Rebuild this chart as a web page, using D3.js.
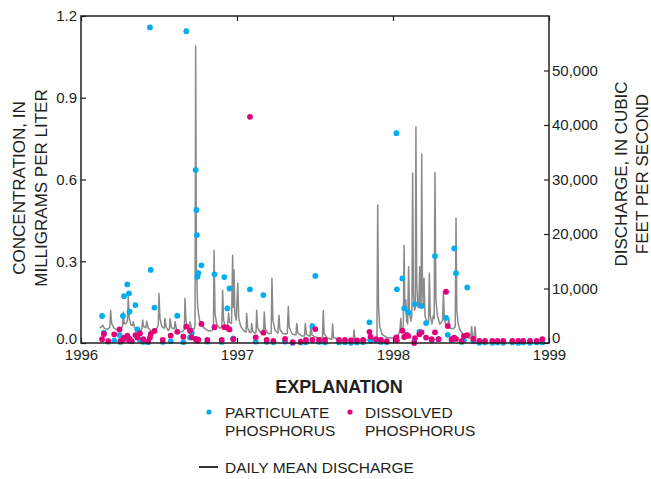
<!DOCTYPE html>
<html>
<head>
<meta charset="utf-8">
<script src="https://cdn.jsdelivr.net/npm/d3@7/dist/d3.min.js"></script>
<style>
  html, body { margin: 0; padding: 0; background: #fff; }
  svg { display: block; }
  text { font-family: "Liberation Sans", Arial, Helvetica, sans-serif; fill: #231f20; }
</style>
</head>
<body>
<svg id="chart" width="651" height="479"></svg>
<script>
// ---------- DATA ----------
const xTickYears = [1996, 1997, 1998, 1999];
const concTicks = [0, 0.3, 0.6, 0.9, 1.2];
const dischargeTicks = [0, 10000, 20000, 30000, 40000, 50000];

// Water-quality samples (decimal year) with particulate and dissolved phosphorus, mg/L
const sampleYears = [
  1996.135, 1996.147, 1996.175, 1996.213, 1996.247, 1996.253, 1996.269, 1996.276, 1996.297, 1996.308,
  1996.311, 1996.325, 1996.349, 1996.361, 1996.378, 1996.399, 1996.431, 1996.442, 1996.447, 1996.471,
  1996.524, 1996.575, 1996.617, 1996.656, 1996.675, 1996.699, 1996.710, 1996.735, 1996.740, 1996.743,
  1996.746, 1996.752, 1996.772, 1996.810, 1996.856, 1996.902, 1996.919, 1996.938, 1996.952, 1996.976,
  1997.083, 1997.120, 1997.169, 1997.190, 1997.233, 1997.308, 1997.357, 1997.408, 1997.442, 1997.483,
  1997.502, 1997.526, 1997.564, 1997.654, 1997.692, 1997.731, 1997.769, 1997.808, 1997.849, 1997.856,
  1997.891, 1997.923, 1997.960, 1998.022, 1998.025, 1998.060, 1998.072, 1998.088, 1998.098, 1998.136,
  1998.141, 1998.169, 1998.183, 1998.212, 1998.248, 1998.269, 1998.292, 1998.340, 1998.351, 1998.376,
  1998.392, 1998.404, 1998.440, 1998.455, 1998.476, 1998.515, 1998.553, 1998.590, 1998.637, 1998.671,
  1998.707, 1998.765, 1998.803, 1998.835, 1998.878, 1998.921, 1998.957
];
const particulate = [
  0.099, 0.038, 0.005, 0.010, 0.029, 0.004, 0.099, 0.172, 0.215, 0.182,
  0.115, 0.006, 0.139, 0.050, 0.012, 0.004, 0.003, 1.158, 0.268, 0.130,
  0.004, 0.006, 0.100, 0.003, 1.144, 0.020, 0.038, 0.635, 0.488, 0.396,
  0.243, 0.256, 0.285, 0.005, 0.252, 0.004, 0.242, 0.127, 0.200, 0.017,
  0.197, 0.005, 0.176, 0.004, 0.003, 0.005, 0.000, 0.002, 0.003, 0.062,
  0.246, 0.004, 0.002, 0.002, 0.003, 0.001, 0.002, 0.003, 0.076, 0.008,
  0.010, 0.004, 0.003, 0.770, 0.197, 0.237, 0.127, 0.030, 0.112, 0.005,
  0.143, 0.041, 0.136, 0.073, 0.010, 0.319, 0.014, 0.092, 0.030, 0.010,
  0.347, 0.256, 0.004, 0.010, 0.204, 0.006, 0.001, 0.002, 0.001, 0.002,
  0.001, 0.002, 0.001, 0.002, 0.001, 0.002, 0.002
];
const dissolved = [
  0.014, 0.033, 0.007, 0.032, 0.050, 0.008, 0.012, 0.020, 0.027, 0.010,
  0.015, 0.007, 0.029, 0.020, 0.035, 0.014, 0.007, 0.020, 0.033, 0.044,
  0.011, 0.027, 0.041, 0.023, 0.060, 0.045, 0.021, 0.015, 0.012, 0.010,
  0.008, 0.012, 0.070, 0.011, 0.058, 0.011, 0.058, 0.056, 0.050, 0.014,
  0.830, 0.021, 0.038, 0.011, 0.008, 0.015, 0.003, 0.005, 0.011, 0.011,
  0.051, 0.011, 0.011, 0.011, 0.011, 0.010, 0.010, 0.011, 0.041, 0.023,
  0.014, 0.011, 0.007, 0.021, 0.010, 0.045, 0.022, 0.029, 0.026, 0.000,
  0.018, 0.032, 0.039, 0.020, 0.014, 0.039, 0.014, 0.188, 0.062, 0.014,
  0.020, 0.015, 0.007, 0.026, 0.029, 0.015, 0.008, 0.008, 0.008, 0.008,
  0.008, 0.008, 0.008, 0.008, 0.008, 0.008, 0.014
];

// Daily mean discharge, read at turning points (decimal year, cubic feet per second)
const dischargeYears = [
  1996.120, 1996.135, 1996.139, 1996.150, 1996.170, 1996.185, 1996.190, 1996.196, 1996.210, 1996.230,
  1996.250, 1996.266, 1996.271, 1996.277, 1996.290, 1996.298, 1996.303, 1996.309, 1996.320, 1996.331,
  1996.335, 1996.343, 1996.360, 1996.380, 1996.391, 1996.395, 1996.402, 1996.416, 1996.421, 1996.430,
  1996.450, 1996.470, 1996.485, 1996.495, 1996.500, 1996.506, 1996.518, 1996.534, 1996.538, 1996.546,
  1996.560, 1996.567, 1996.571, 1996.580, 1996.598, 1996.603, 1996.612, 1996.630, 1996.650, 1996.662,
  1996.667, 1996.673, 1996.684, 1996.695, 1996.699, 1996.708, 1996.725, 1996.731, 1996.735, 1996.740,
  1996.748, 1996.760, 1996.780, 1996.800, 1996.820, 1996.840, 1996.849, 1996.853, 1996.859, 1996.870,
  1996.890, 1996.903, 1996.908, 1996.914, 1996.925, 1996.940, 1996.946, 1996.952, 1996.965, 1996.972,
  1996.977, 1996.981, 1996.986, 1996.995, 1997.005, 1997.011, 1997.025, 1997.045, 1997.058, 1997.062,
  1997.068, 1997.080, 1997.090, 1997.094, 1997.100, 1997.115, 1997.122, 1997.126, 1997.132, 1997.150,
  1997.170, 1997.175, 1997.181, 1997.200, 1997.219, 1997.224, 1997.230, 1997.245, 1997.262, 1997.269,
  1997.275, 1997.295, 1997.322, 1997.329, 1997.335, 1997.355, 1997.378, 1997.383, 1997.390, 1997.415,
  1997.433, 1997.438, 1997.445, 1997.468, 1997.474, 1997.480, 1997.500, 1997.530, 1997.548, 1997.553,
  1997.559, 1997.580, 1997.608, 1997.613, 1997.619, 1997.650, 1997.700, 1997.745, 1997.750, 1997.756,
  1997.800, 1997.850, 1997.880, 1997.897, 1997.902, 1997.907, 1997.915, 1997.930, 1997.960, 1997.990,
  1998.020, 1998.035, 1998.045, 1998.050, 1998.056, 1998.066, 1998.071, 1998.076, 1998.082, 1998.087,
  1998.094, 1998.100, 1998.106, 1998.115, 1998.121, 1998.126, 1998.131, 1998.138, 1998.143, 1998.147,
  1998.152, 1998.160, 1998.166, 1998.171, 1998.176, 1998.180, 1998.184, 1998.189, 1998.195, 1998.199,
  1998.205, 1998.215, 1998.228, 1998.233, 1998.239, 1998.250, 1998.258, 1998.264, 1998.269, 1998.275,
  1998.285, 1998.300, 1998.310, 1998.318, 1998.323, 1998.329, 1998.340, 1998.352, 1998.358, 1998.365,
  1998.385, 1998.399, 1998.404, 1998.409, 1998.418, 1998.430, 1998.450, 1998.480, 1998.498, 1998.504,
  1998.510, 1998.520, 1998.526, 1998.532
];
const dischargeCfs = [
  2800, 3000, 3300, 2700, 2500, 2900, 6000, 3600, 2800, 2400,
  2700, 3000, 5700, 3500, 3600, 4200, 8500, 4600, 3300, 3200,
  3900, 2900, 2400, 2200, 2600, 4200, 3000, 2800, 4000, 2800,
  2200, 2400, 2700, 3200, 9100, 4500, 3000, 2700, 4500, 2900,
  2300, 2600, 4500, 2800, 2600, 3900, 2500, 2000, 2100, 2500,
  8200, 4000, 2900, 2800, 3900, 2700, 2500, 3200, 54500, 14000,
  6500, 4200, 3000, 2500, 2200, 2300, 2700, 17000, 5500, 3400,
  2700, 3000, 9700, 4200, 3000, 3300, 5500, 3800, 3600, 16100,
  6500, 13400, 5500, 4200, 11000, 4500, 3000, 2200, 2000, 5400,
  2800, 2000, 1900, 3600, 2200, 1800, 2000, 6000, 2800, 1900,
  1700, 5700, 2600, 1700, 1800, 11900, 4200, 2300, 1800, 5100,
  2500, 1700, 1700, 6700, 2800, 1600, 1500, 3600, 1800, 1300,
  1300, 3600, 1600, 1200, 3500, 1500, 1100, 900, 900, 5900,
  1700, 900, 700, 3500, 1000, 600, 500, 500, 2400, 700,
  500, 600, 700, 900, 25300, 7000, 3000, 1600, 1000, 900,
  1200, 1500, 2500, 4500, 2200, 2500, 17900, 6000, 7900, 4000,
  3500, 14000, 5500, 4000, 5200, 31200, 9000, 6000, 6500, 39700,
  11000, 6500, 7000, 14000, 7000, 6500, 34700, 10000, 6500, 11900,
  5000, 4000, 3600, 12800, 5000, 3500, 5000, 4500, 31300, 8000,
  5000, 3500, 3800, 4200, 9400, 4500, 3200, 3000, 4500, 2700,
  2600, 3000, 22900, 6000, 3500, 2400, 1500, 900, 900, 3000,
  1200, 1000, 3000, 800
];

// ---------- LAYOUT ----------
const svg = d3.select("#chart");
const L = 81, R = 549, T = 16, B = 343;
const ink = "#231f20";
const cyan = "#00aeef", magenta = "#e2007a", grey = "#8a8a8a";

const x = d3.scaleLinear().domain([1996, 1999]).range([L, R]);
const yC = d3.scaleLinear().domain([0, 1.2]).range([B, T]);
const yQ = d3.scaleLinear().domain([0, 60000]).range([B, T]);

// discharge line
const line = d3.line().x((d, i) => x(dischargeYears[i])).y(d => yQ(d));
svg.append("path")
  .datum(dischargeCfs)
  .attr("d", line)
  .attr("fill", "none")
  .attr("stroke", grey)
  .attr("stroke-width", 1.5)
  .attr("stroke-linejoin", "round");

// particulate points
svg.append("g").selectAll("circle")
  .data(particulate)
  .join("circle")
  .attr("cx", (d, i) => x(sampleYears[i]))
  .attr("cy", d => yC(d))
  .attr("r", 2.9)
  .attr("fill", cyan);

// dissolved points
svg.append("g").selectAll("circle")
  .data(dissolved)
  .join("circle")
  .attr("cx", (d, i) => x(sampleYears[i]))
  .attr("cy", d => yC(d))
  .attr("r", 2.9)
  .attr("fill", magenta);

// axes
function styleAxis(g) {
  g.select(".domain").remove();
  g.selectAll(".tick line").attr("stroke", ink).attr("stroke-width", 1.2);
  g.selectAll(".tick text").attr("fill", ink)
    .style("font-family", '"Liberation Sans", Arial, Helvetica, sans-serif')
    .style("font-size", "15px");
}

const leftAxis = svg.append("g").attr("transform", `translate(${L},0)`)
  .call(d3.axisLeft(yC).tickValues(concTicks).tickSize(-5).tickPadding(4).tickFormat(d3.format(".1f")))
  .call(styleAxis);
leftAxis.selectAll(".tick text").filter(d => d === 0).attr("y", -4);

const rightAxis = svg.append("g").attr("transform", `translate(${R},0)`)
  .call(d3.axisRight(yQ).tickValues(dischargeTicks).tickSize(-5).tickPadding(3).tickFormat(d3.format(",")))
  .call(styleAxis);
rightAxis.selectAll(".tick text").filter(d => d === 0).attr("y", -5);

svg.append("g").attr("transform", `translate(0,${B})`)
  .call(d3.axisBottom(x).tickValues(xTickYears).tickSize(-5).tickPadding(6).tickFormat(d3.format("d")))
  .call(styleAxis);

svg.append("g").attr("transform", `translate(0,${T})`)
  .call(d3.axisTop(x).tickValues(xTickYears).tickSize(-5).tickFormat(""))
  .call(styleAxis);

// frame
svg.append("rect")
  .attr("x", L).attr("y", T).attr("width", R - L).attr("height", B - T)
  .attr("fill", "none").attr("stroke", ink).attr("stroke-width", 1.5);

// axis titles
const leftTitle = svg.append("text")
  .attr("transform", `translate(25,188) rotate(-90)`)
  .attr("text-anchor", "middle")
  .style("font-size", "17px");
leftTitle.append("tspan").attr("x", 0).attr("y", 0).text("CONCENTRATION, IN");
leftTitle.append("tspan").attr("x", 0).attr("y", 22).text("MILLIGRAMS PER LITER");

const rightTitle = svg.append("text")
  .attr("transform", `translate(627,174) rotate(-90)`)
  .attr("text-anchor", "middle")
  .style("font-size", "17px");
rightTitle.append("tspan").attr("x", 0).attr("y", 0).text("DISCHARGE, IN CUBIC");
rightTitle.append("tspan").attr("x", 0).attr("y", 21).text("FEET PER SECOND");

// legend
svg.append("text").attr("x", 339).attr("y", 393).attr("text-anchor", "middle")
  .style("font-size", "18px").style("font-weight", "bold").text("EXPLANATION");

const legendSeries = [
  { color: cyan, cx: 209, tx: 225, lines: ["PARTICULATE", "PHOSPHORUS"] },
  { color: magenta, cx: 350, tx: 365, lines: ["DISSOLVED", "PHOSPHORUS"] }
];
legendSeries.forEach(s => {
  svg.append("circle").attr("cx", s.cx).attr("cy", 412).attr("r", 2.6).attr("fill", s.color);
  const t = svg.append("text").style("font-size", "15.5px");
  s.lines.forEach((ln, i) => t.append("tspan").attr("x", s.tx).attr("y", 418 + i * 18).text(ln));
});

svg.append("line").attr("x1", 199).attr("x2", 218).attr("y1", 467).attr("y2", 467)
  .attr("stroke", "#333").attr("stroke-width", 2);
svg.append("text").attr("x", 225).attr("y", 473).style("font-size", "15.5px").text("DAILY MEAN DISCHARGE");
</script>
</body>
</html>
